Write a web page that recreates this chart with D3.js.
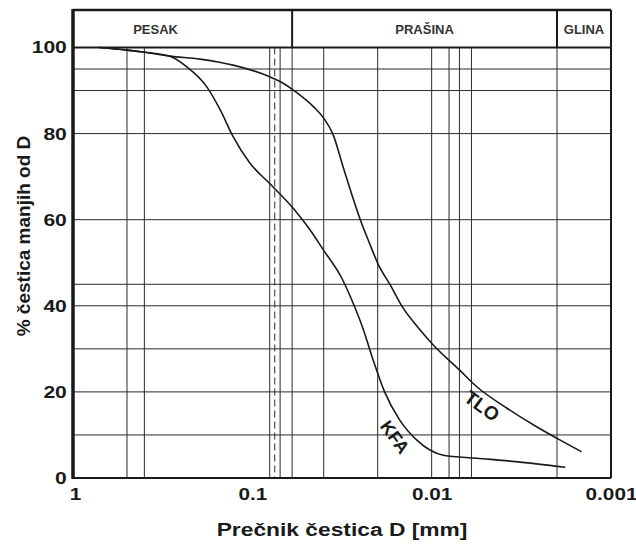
<!DOCTYPE html>
<html>
<head>
<meta charset="utf-8">
<script src="https://cdn.jsdelivr.net/npm/d3@7"></script>
<style>
  body { margin: 0; background: #fff; }
  svg { display: block; font-family: "Liberation Sans", Arial, sans-serif; }
</style>
</head>
<body>
<svg id="chart" width="636" height="544"></svg>
<script>
// grain size curves (diameter mm, % passing)
var tloD = [0.71, 0.5, 0.4, 0.29, 0.196, 0.15, 0.128, 0.08, 0.07, 0.0565, 0.0455, 0.040, 0.0354, 0.0312, 0.028, 0.025, 0.0222, 0.0198, 0.017, 0.0146, 0.0121, 0.0098, 0.007, 0.0056, 0.0038, 0.0026, 0.002, 0.00146];
var tloP = [100, 99.4, 98.9, 98.0, 97.3, 96.5, 95.9, 93.2, 92.1, 89.5, 86.2, 83.6, 79.7, 72.3, 66.1, 60, 54.5, 49.5, 44.8, 39.8, 35.3, 30.9, 25.1, 21.2, 16.2, 11.9, 9.2, 6.1];
var kfaD = [0.71, 0.5, 0.4, 0.29, 0.232, 0.179, 0.151, 0.128, 0.103, 0.08, 0.059, 0.0476, 0.0402, 0.0317, 0.0274, 0.024, 0.0212, 0.0183, 0.0151, 0.0121, 0.0086, 0.0056, 0.0034, 0.0018];
var kfaP = [100, 99.4, 98.9, 98.0, 95.5, 90.8, 85.5, 79.3, 73.1, 68.4, 62.6, 57.6, 53, 46.4, 40.6, 34.4, 27.4, 20, 13.5, 8.8, 5.3, 4.6, 3.8, 2.5];

// grid
var gridD = [0.5, 0.4, 0.08, 0.07, 0.06, 0.04, 0.02, 0.01, 0.008, 0.007, 0.006, 0.002];
var dashedD = [0.075];
var gridP = [10, 20, 30, 40, 45, 60, 80, 90, 95];

// soil classes in the top band (diameter range, mm)
var bandNames = ["PESAK", "PRAŠINA", "GLINA"];
var bandFrom = [2, 0.06, 0.002];
var bandTo = [0.06, 0.002, 0.001];

var xTicks = [1, 0.1, 0.01, 0.001];
var xTickText = ["1", "0.1", "0.01", "0.001"];
var yTicks = [0, 20, 40, 60, 80, 100];

var svg = d3.select("#chart");
var L = 73, R = 611, T = 10, B = 478;
var x = d3.scaleLog().domain([1, 0.001]).range([L, R]);
var y = d3.scaleLinear().domain([0, 100]).range([B, 47.5]);
var ink = "#1a1a1a";

// grid lines
svg.append("g").selectAll("line").data(gridP).join("line")
  .attr("x1", L).attr("x2", R)
  .attr("y1", function (d) { return y(d); }).attr("y2", function (d) { return y(d); })
  .attr("stroke", "#2a2a2a").attr("stroke-width", 1);
svg.append("g").selectAll("line").data(gridD).join("line")
  .attr("x1", function (d) { return x(d); }).attr("x2", function (d) { return x(d); })
  .attr("y1", y(100)).attr("y2", B)
  .attr("stroke", "#2a2a2a").attr("stroke-width", 1);
svg.append("g").selectAll("line").data(dashedD).join("line")
  .attr("x1", function (d) { return x(d); }).attr("x2", function (d) { return x(d); })
  .attr("y1", y(100)).attr("y2", B)
  .attr("stroke", "#2a2a2a").attr("stroke-width", 1).attr("stroke-dasharray", "7,4");

// top band
var band = svg.append("g");
band.selectAll("line").data(bandFrom.slice(1)).join("line")
  .attr("x1", function (d) { return x(d); }).attr("x2", function (d) { return x(d); })
  .attr("y1", T).attr("y2", y(100))
  .attr("stroke", ink).attr("stroke-width", 2);
band.selectAll("text").data(bandNames).join("text")
  .attr("x", function (d, i) { return x(Math.sqrt(bandFrom[i] * bandTo[i])); })
  .attr("y", 29.5)
  .attr("dy", "0.35em")
  .attr("text-anchor", "middle")
  .attr("font-size", 13).attr("font-weight", "bold").attr("fill", "#333")
  .text(function (d) { return d; });

// frame
svg.append("line").attr("x1", L).attr("x2", R).attr("y1", T).attr("y2", T).attr("stroke", ink).attr("stroke-width", 2.5);
svg.append("line").attr("x1", L).attr("x2", R).attr("y1", y(100)).attr("y2", y(100)).attr("stroke", ink).attr("stroke-width", 2);
svg.append("line").attr("x1", R).attr("x2", R).attr("y1", T).attr("y2", B).attr("stroke", ink).attr("stroke-width", 2);
svg.append("line").attr("x1", L).attr("x2", R).attr("y1", B).attr("y2", B).attr("stroke", ink).attr("stroke-width", 2);
svg.append("line").attr("x1", L).attr("x2", L).attr("y1", T - 1).attr("y2", B + 1).attr("stroke", ink).attr("stroke-width", 3.5);

// curves
var line = d3.line()
  .x(function (d) { return x(d[0]); })
  .y(function (d) { return y(d[1]); })
  .curve(d3.curveMonotoneX);
var tlo = d3.zip(tloD, tloP), kfa = d3.zip(kfaD, kfaP);
[tlo, kfa].forEach(function (s) {
  svg.append("path").datum(s).attr("d", line)
    .attr("fill", "none").attr("stroke", ink).attr("stroke-width", 1.6);
});

// curve labels
svg.append("text").attr("transform", "translate(482,406) rotate(36)")
  .attr("text-anchor", "middle").attr("dy", "0.35em")
  .attr("font-size", 19).attr("font-weight", "bold").attr("fill", ink).text("TLO");
svg.append("text").attr("transform", "translate(395,437) rotate(54)")
  .attr("text-anchor", "middle").attr("dy", "0.35em")
  .attr("font-size", 18).attr("font-weight", "bold").attr("fill", ink).text("KFA");

// axes (labels only)
var yAxis = svg.append("g").attr("transform", "translate(" + L + ",0)")
  .call(d3.axisLeft(y).tickValues(yTicks).tickSize(0).tickPadding(5).tickFormat(d3.format("d")));
yAxis.select(".domain").remove();
yAxis.selectAll("text").attr("font-size", 17).attr("font-weight", "bold").attr("fill", ink)
  .attr("font-family", "Liberation Sans, Arial, sans-serif")
  .attr("transform", "scale(1.24,1)");

var xAxis = svg.append("g").attr("transform", "translate(0," + B + ")")
  .call(d3.axisBottom(x).tickValues(xTicks).tickSize(0).tickPadding(10)
    .tickFormat(function (d, i) { return xTickText[i]; }));
xAxis.select(".domain").remove();
xAxis.selectAll("text").attr("font-size", 17).attr("font-weight", "bold").attr("fill", ink)
  .attr("font-family", "Liberation Sans, Arial, sans-serif")
  .attr("transform", "scale(1.22,1)")
  .attr("x", function (d, i) { return i === 0 ? 2 / 1.22 : 0; });

// titles
svg.append("text").attr("transform", "translate(342,536) scale(1.2,1)")
  .attr("text-anchor", "middle")
  .attr("font-size", 19).attr("font-weight", "bold").attr("fill", ink)
  .text("Prečnik čestica D [mm]");
svg.append("text").attr("transform", "translate(30,236) rotate(-90)")
  .attr("text-anchor", "middle")
  .attr("font-size", 19).attr("font-weight", "bold").attr("fill", ink)
  .text("% čestica manjih od D");
</script>
</body>
</html>
